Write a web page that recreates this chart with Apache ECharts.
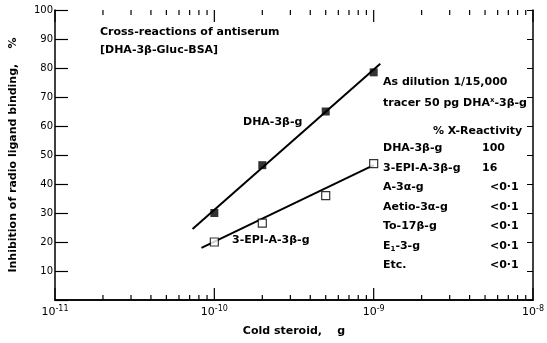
<!DOCTYPE html>
<html>
<head>
<meta charset="utf-8">
<script src="https://cdn.jsdelivr.net/npm/echarts@6/dist/echarts.min.js"></script>
<style>
  html, body { margin: 0; padding: 0; background: #fff; }
  #chart { width: 547px; height: 343px; }
</style>
</head>
<body>
<div id="chart"></div>
<script>
// cold steroid amounts (g)
var doses = [1e-10, 2e-10, 5e-10, 1e-9]
// inhibition of radio ligand binding, %
var dhaValues = [30, 46.5, 65, 78.5]
var epiValues = [20, 26.5, 36, 47]
// drawn fit lines (end points)
var dhaLineX = [7.3e-11, 1.1e-9]
var dhaLineY = [24.5, 81.5]
var epiLineX = [8.3e-11, 1e-9]
var epiLineY = [18, 46.5]

var yTicks = [0, 10, 20, 30, 40, 50, 60, 70, 80, 90, 100]

// log tick positions along the x axis
var majorTicks = [1e-11, 1e-10, 1e-9, 1e-8]
var minorTicks = []
for (let d = -11; d < -8; d++) {
    for (let k = 2; k < 10; k++) {
        minorTicks.push(k * Math.pow(10, d))
    }
}

var rows = ['DHA-3β-g', '3-EPI-A-3β-g', 'A-3α-g', 'Aetio-3α-g', 'To-17β-g', '{t|E}{sub|1}{t|-3-g}', 'Etc.']
var reactivity = ['100', '16', '<0·1', '<0·1', '<0·1', '<0·1', '<0·1']

var font = 'DejaVu Sans'
var myChart = echarts.init(document.getElementById('chart'))

function pairs(xs, ys) {
    return xs.map(function (x, i) { return [x, ys[i]] })
}

// tick marks drawn against the log axis
function tickSeries(ticks, yVal, dir, len) {
    return {
        type: 'custom',
        silent: true,
        data: ticks.map(function (t) { return [t, yVal] }),
        renderItem: function (params, api) {
            var p = api.coord([api.value(0), api.value(1)])
            return {
                type: 'line',
                shape: { x1: p[0], y1: p[1], x2: p[0], y2: p[1] + dir * len },
                style: { stroke: '#000', lineWidth: 1.2 }
            }
        },
        z: 5
    }
}

var tableText = []
for (let i = 0; i < rows.length; i++) {
    tableText.push({
        type: 'text', left: 383, top: 143 + i * 19.5,
        style: { text: rows[i], font: 'bold 11px ' + font, fill: '#000',
            rich: { t: { font: 'bold 11px ' + font }, sub: { font: 'bold 7px ' + font, verticalAlign: 'bottom', padding: [6, 0, 0, 0] } } }
    })
    tableText.push({
        type: 'text', left: i < 2 ? 482 : 490, top: 143 + i * 19.5,
        style: { text: reactivity[i], font: 'bold 11px ' + font, fill: '#000' }
    })
}

option = {
    animation: false,
    backgroundColor: '#fff',
    grid: { left: 54, right: 9, top: 10, bottom: 43 },
    xAxis: [{
        type: 'log',
        logBase: 10,
        min: 1e-11,
        max: 1e-8,
        name: 'Cold steroid,    g',
        nameLocation: 'middle',
        nameGap: 26,
        nameTextStyle: { fontFamily: font, fontWeight: 'bold', fontSize: 11, color: '#000' },
        axisLine: { lineStyle: { color: '#000', width: 1.5 } },
        axisTick: { show: false },
        splitLine: { show: false },
        axisLabel: {
            margin: 5,
            formatter: function (v) {
                return '{b|10}{s|' + Math.round(Math.log10(v)) + '}'
            },
            rich: {
                b: { fontFamily: font, fontSize: 11, color: '#000' },
                s: { fontFamily: font, fontSize: 8, color: '#000', verticalAlign: 'top', padding: [0, 0, 6, 0] }
            }
        }
    }, {
        type: 'log',
        logBase: 10,
        min: 1e-11,
        max: 1e-8,
        position: 'top',
        axisLine: { lineStyle: { color: '#000', width: 1.5 } },
        axisTick: { show: false },
        axisLabel: { show: false },
        splitLine: { show: false }
    }],
    yAxis: [{
        type: 'value',
        min: 0,
        max: 100,
        interval: 10,
        name: 'Inhibition of radio ligand binding,    %',
        nameLocation: 'middle',
        nameGap: 36,
        nameTextStyle: { fontFamily: font, fontWeight: 'bold', fontSize: 11, color: '#000' },
        axisLine: { lineStyle: { color: '#000', width: 1.5 } },
        axisTick: { inside: true, length: 13, lineStyle: { color: '#000', width: 1.2 } },
        splitLine: { show: false },
        axisLabel: {
            margin: 2,
            fontFamily: font, fontSize: 10, color: '#000',
            formatter: function (v) { return v === 0 ? '' : String(v) }
        }
    }, {
        type: 'value',
        min: 0,
        max: 100,
        interval: 10,
        position: 'right',
        axisLine: { show: true, lineStyle: { color: '#000', width: 1.5 } },
        axisTick: { inside: true, length: 6, lineStyle: { color: '#000', width: 1 } },
        axisLabel: { show: false },
        splitLine: { show: false }
    }],
    series: [
        {
            type: 'line', data: pairs(dhaLineX, dhaLineY), showSymbol: false, silent: true,
            lineStyle: { color: '#000', width: 2 }
        },
        {
            type: 'line', data: pairs(epiLineX, epiLineY), showSymbol: false, silent: true,
            lineStyle: { color: '#000', width: 2 }
        },
        {
            type: 'scatter', data: pairs(doses, dhaValues), symbol: 'rect', symbolSize: 8,
            itemStyle: { color: '#000' }, z: 4
        },
        {
            type: 'scatter', data: pairs(doses, epiValues), symbol: 'rect', symbolSize: 8,
            itemStyle: { color: '#fff', borderColor: '#000', borderWidth: 1.2 }, z: 4
        },
        tickSeries(minorTicks, 0, -1, 5),
        tickSeries(majorTicks, 0, -1, 12),
        tickSeries(minorTicks, 100, 1, 5),
        tickSeries(majorTicks, 100, 1, 12)
    ],
    graphic: [
        { type: 'text', left: 100, top: 27, style: { text: 'Cross-reactions of antiserum', font: 'bold 11px ' + font, fill: '#000' } },
        { type: 'text', left: 100, top: 45, style: { text: '[DHA-3β-Gluc-BSA]', font: 'bold 11px ' + font, fill: '#000' } },
        { type: 'text', left: 243, top: 117, style: { text: 'DHA-3β-g', font: 'bold 11px ' + font, fill: '#000' } },
        { type: 'text', left: 232, top: 235, style: { text: '3-EPI-A-3β-g', font: 'bold 11px ' + font, fill: '#000' } },
        { type: 'text', left: 383, top: 77, style: { text: 'As dilution 1/15,000', font: 'bold 11px ' + font, fill: '#000' } },
        {
            type: 'text', left: 383, top: 97,
            style: {
                text: '{t|tracer 50 pg DHA}{s|x}{t|-3β-g}', fill: '#000',
                rich: { t: { font: 'bold 11px ' + font }, s: { font: 'bold 7px ' + font, verticalAlign: 'top', padding: [0, 0, 6, 0] } }
            }
        },
        { type: 'text', left: 433, top: 126, style: { text: '% X-Reactivity', font: 'bold 11px ' + font, fill: '#000' } }
    ].concat(tableText)
}

myChart.setOption(option)
window.addEventListener('resize', function () {
    myChart.resize()
})
</script>
</body>
</html>
